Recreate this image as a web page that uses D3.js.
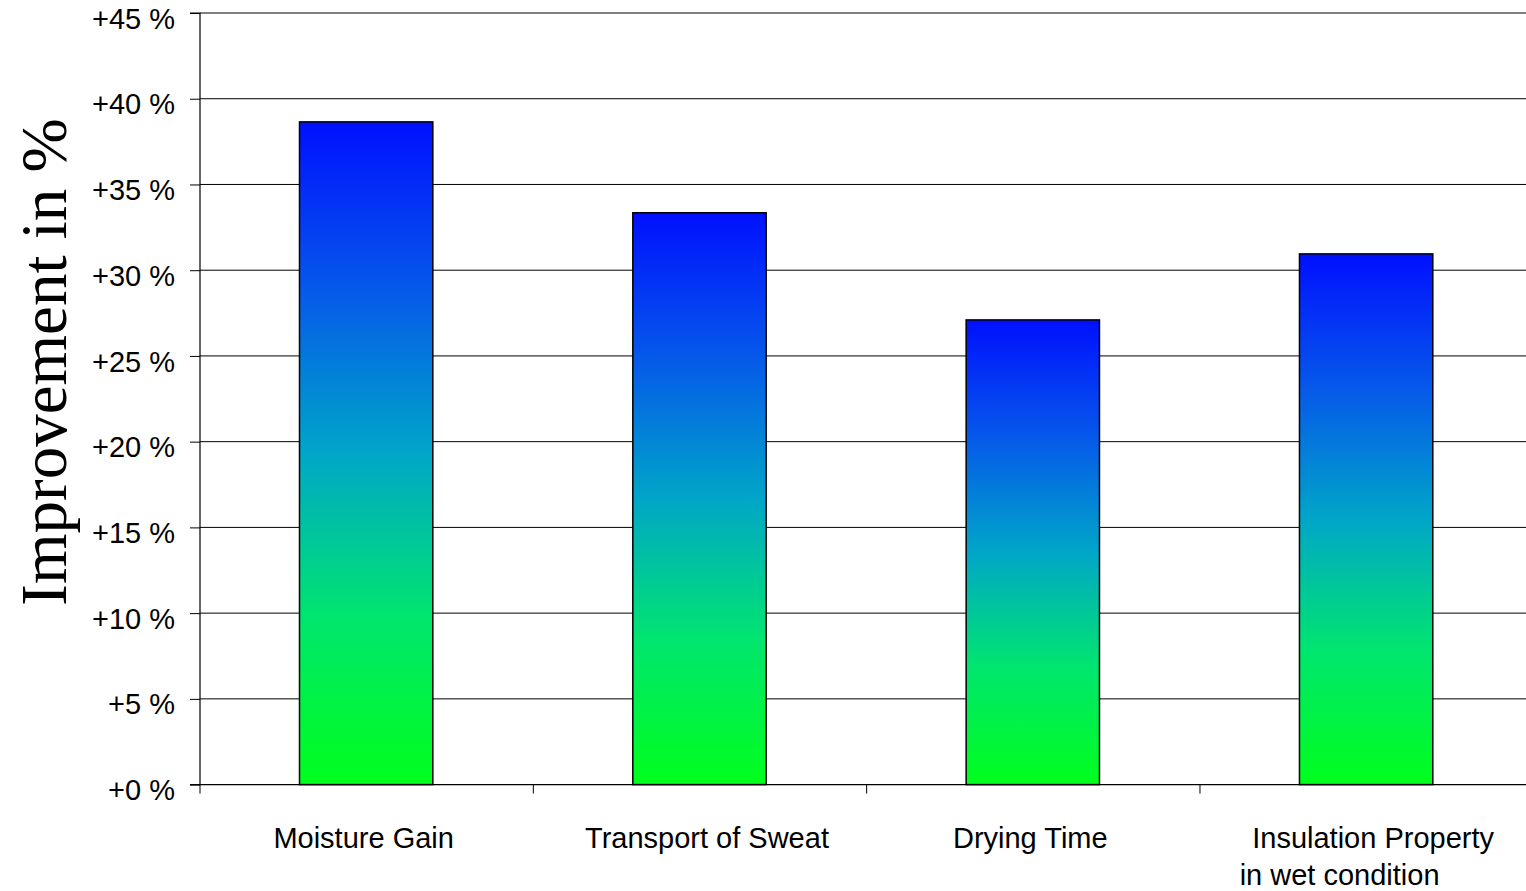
<!DOCTYPE html>
<html>
<head>
<meta charset="utf-8">
<script src="https://cdn.jsdelivr.net/npm/d3@7"></script>
<style>
  html, body { margin: 0; padding: 0; background: #fff; overflow: hidden; }
  svg { display: block; }
</style>
</head>
<body>
<svg id="chart" width="1526" height="891"></svg>
<script>
// Improvement per fabric property, in percent
const categories = ["Moisture Gain", "Transport of Sweat", "Drying Time", "Insulation Property"];
const categoryLines = [["Moisture Gain"], ["Transport of Sweat"], ["Drying Time"], ["Insulation Property", "in wet condition"]];
const values = [38.65, 33.35, 27.1, 30.95];
const yTicks = [0, 5, 10, 15, 20, 25, 30, 35, 40, 45];
const yTickLabels = ["+0 %", "+5 %", "+10 %", "+15 %", "+20 %", "+25 %", "+30 %", "+35 %", "+40 %", "+45 %"];
const yTitle = "Improvement in %";

const svg = d3.select("#chart");
const plotLeft = 200, plotRight = 1533.3, plotTop = 13, plotBottom = 784.6;

const x = d3.scaleBand().domain(categories).range([plotLeft, plotRight]).paddingInner(0).paddingOuter(0);
const y = d3.scaleLinear().domain([0, 45]).range([plotBottom, plotTop]);

// Vertical gradient used by every bar (blue at top, green at bottom)
const defs = svg.append("defs");
const grad = defs.append("linearGradient")
  .attr("id", "barGrad").attr("x1", 0).attr("y1", 0).attr("x2", 0).attr("y2", 1);
[[0, "#0010ff"], [0.25, "#0658ea"], [0.5, "#00a6c8"], [0.75, "#00e66e"], [1, "#00ff1c"]]
  .forEach(([o, c]) => grad.append("stop").attr("offset", o).attr("stop-color", c));

// Horizontal gridlines
svg.append("g").selectAll("line").data(yTicks.filter(d => d > 0)).join("line")
  .attr("x1", plotLeft).attr("x2", 1526)
  .attr("y1", d => y(d)).attr("y2", d => y(d))
  .attr("stroke", "#000").attr("stroke-width", 1);

// Y axis with tick labels
const yAxis = d3.axisLeft(y).tickValues(yTicks).tickSize(10).tickPadding(15)
  .tickFormat((d, i) => yTickLabels[i]);
const gy = svg.append("g").attr("transform", `translate(${plotLeft},0)`).call(yAxis);
gy.select(".domain").attr("stroke", "#000").attr("stroke-width", 1.2).attr("d", `M-10,${plotTop}H0V${plotBottom}H-10`);
gy.selectAll(".tick line").attr("stroke", "#000");
gy.selectAll(".tick text")
  .attr("fill", "#000")
  .attr("dy", "0.52em")
  .style("font-family", "'Liberation Sans', Arial, sans-serif")
  .style("font-size", "29px");

// Bars
const barW = x.bandwidth() * 0.4;
svg.append("g").selectAll("rect").data(values).join("rect")
  .attr("x", (d, i) => x(categories[i]) + (x.bandwidth() - barW) / 2 - 0.5)
  .attr("y", d => y(d))
  .attr("width", barW)
  .attr("height", d => y(0) - y(d))
  .attr("fill", "url(#barGrad)")
  .attr("stroke", "#000").attr("stroke-width", 1.5);

// X axis line with category separator ticks
const gx = svg.append("g");
gx.append("line").attr("x1", plotLeft).attr("x2", 1526).attr("y1", plotBottom).attr("y2", plotBottom)
  .attr("stroke", "#000").attr("stroke-width", 1.2);
const boundaries = categories.map(c => x(c)).concat([plotRight]);
gx.selectAll("line.sep").data(boundaries).join("line").attr("class", "sep")
  .attr("x1", d => d).attr("x2", d => d)
  .attr("y1", plotBottom).attr("y2", plotBottom + 9)
  .attr("stroke", "#000").attr("stroke-width", 1);

// Category labels (small horizontal nudges per line)
const lineOffsets = [[-3], [7], [-3], [6.5, -27]];
categories.forEach((c, i) => {
  categoryLines[i].forEach((t, j) => {
    svg.append("text")
      .attr("x", x(c) + x.bandwidth() / 2 + lineOffsets[i][j])
      .attr("y", 848 + j * 37)
      .attr("text-anchor", "middle")
      .style("font-family", "'Liberation Sans', Arial, sans-serif")
      .style("font-size", "29px")
      .attr("fill", "#000")
      .text(t);
  });
});

// Y axis title
svg.append("text")
  .attr("transform", "translate(66,362) rotate(-90)")
  .attr("text-anchor", "middle")
  .style("font-family", "'Liberation Serif', 'Times New Roman', serif")
  .style("font-size", "65px")
  .attr("fill", "#000")
  .text(yTitle);
</script>
</body>
</html>
